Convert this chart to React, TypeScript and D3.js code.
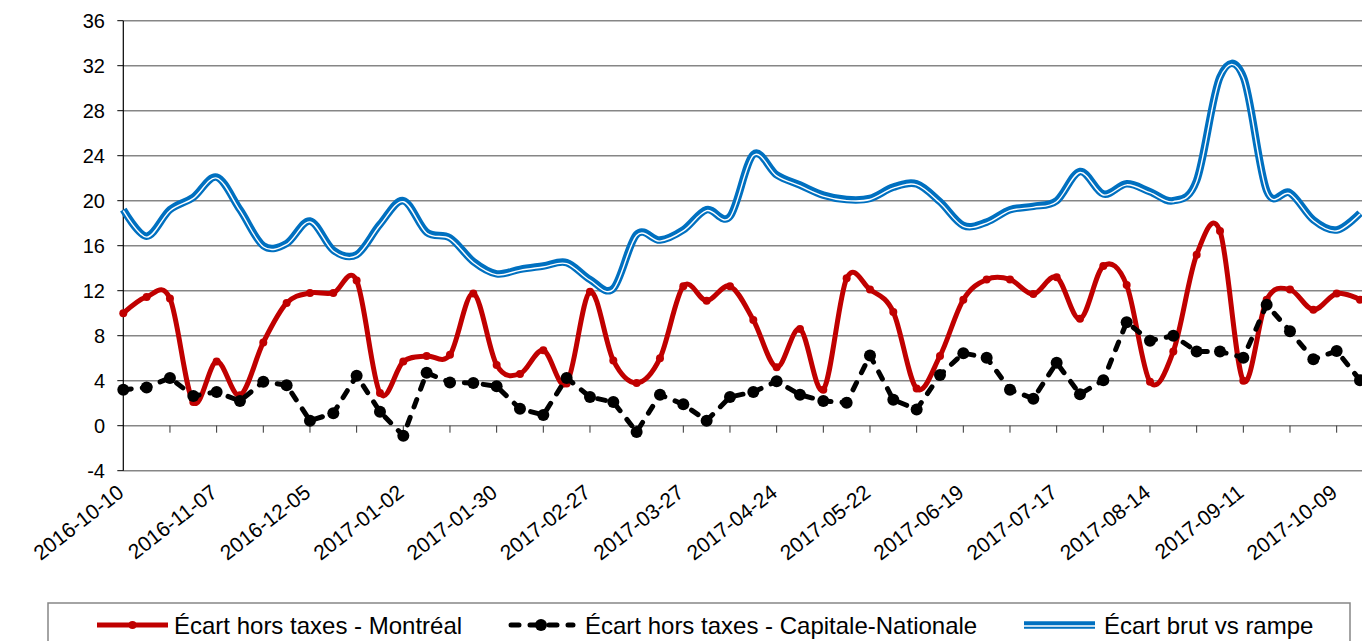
import * as d3 from 'd3'

const tickLabels = [
  '2016-10-10', '2016-11-07', '2016-12-05', '2017-01-02', '2017-01-30', '2017-02-27', '2017-03-27',
  '2017-04-24', '2017-05-22', '2017-06-19', '2017-07-17', '2017-08-14', '2017-09-11', '2017-10-09',
]

// weekly values, one per category
const montreal = [
  10.0, 11.45, 11.3, 2.1, 5.7, 2.7, 7.4, 10.9, 11.8, 11.8, 12.9, 2.9, 5.7, 6.2, 6.3, 11.75, 5.4, 4.6,
  6.7, 3.75, 11.9, 5.8, 3.8, 6.0, 12.4, 11.1, 12.4, 9.4, 5.2, 8.6, 3.2, 13.1, 12.1, 10.1, 3.3, 6.2,
  11.2, 13.0, 13.0, 11.7, 13.2, 9.5, 14.2, 12.5, 3.9, 6.6, 15.2, 17.3, 4.0, 11.2, 12.1, 10.3, 11.75, 11.2,
]
const capitale = [
  3.2, 3.4, 4.25, 2.65, 3.0, 2.2, 3.9, 3.6, 0.45, 1.1, 4.45, 1.25, -0.9, 4.7, 3.85, 3.8, 3.5, 1.5,
  0.95, 4.25, 2.55, 2.1, -0.55, 2.75, 1.9, 0.45, 2.55, 3.0, 3.95, 2.75, 2.2, 2.05, 6.25, 2.3, 1.45, 4.5,
  6.45, 6.05, 3.2, 2.4, 5.6, 2.8, 4.05, 9.2, 7.55, 8.0, 6.6, 6.6, 6.05, 10.75, 8.4, 5.9, 6.65, 4.05,
]
const brut = [
  19.2, 16.85, 19.2, 20.3, 22.1, 19.2, 16.0, 16.2, 18.2, 15.6, 15.2, 17.9, 20.0, 17.2, 16.7, 14.6, 13.5, 13.9,
  14.2, 14.5, 13.0, 12.2, 17.0, 16.5, 17.4, 19.2, 18.6, 24.1, 22.3, 21.4, 20.5, 20.1, 20.2, 21.2, 21.5, 19.9,
  17.8, 18.1, 19.2, 19.5, 20.0, 22.6, 20.6, 21.5, 20.8, 20.0, 21.8, 31.0, 31.0, 20.9, 20.7, 18.3, 17.4, 18.9,
]
const yTicks = [-4, 0, 4, 8, 12, 16, 20, 24, 28, 32, 36]
const legendLabels = ['Écart hors taxes - Montréal', 'Écart hors taxes - Capitale-Nationale', 'Écart brut vs rampe']

const W = 1362
const H = 641
const FONT = '"Liberation Sans", Arial, sans-serif'
const RED = '#C00000'
const BLUE = '#0070C0'
const GRID = '#868686'
const DASH = '8 11'

export default function App() {
  const x = d3.scaleLinear().domain([0, montreal.length - 1]).range([123.3, 1360])
  const y = d3.scaleLinear().domain([-4, 36]).range([470.7, 20.7])
  const left = x(0)

  const smooth = d3
    .line<number>()
    .x((_, i) => x(i))
    .y((d) => y(d))
    .curve(d3.curveCardinal.tension(0))
  const straight = d3
    .line<number>()
    .x((_, i) => x(i))
    .y((d) => y(d))

  const minorTicks = d3.range(2, montreal.length, 2)
  const brutPath = smooth(brut) ?? ''

  return (
    <>
      <style>{'body{margin:0}'}</style>
      <svg width={W} height={H} style={{ display: 'block', background: '#fff' }} fontFamily={FONT}>
        {/* grid + y labels */}
        {yTicks.map((t) => (
          <g key={t}>
            <line x1={left} x2={W} y1={y(t)} y2={y(t)} stroke={GRID} strokeWidth={1.6} />
            <line x1={left - 6} x2={left} y1={y(t)} y2={y(t)} stroke="#000" strokeWidth={1} />
            <text x={105} y={y(t)} dy="0.36em" textAnchor="end" fontSize={20} fill="#000">
              {t}
            </text>
          </g>
        ))}
        <line x1={left} x2={left} y1={y(36)} y2={y(-4)} stroke="#000" strokeWidth={1.2} />
        {minorTicks.map((i) => (
          <line key={i} x1={x(i)} x2={x(i)} y1={y(0)} y2={y(0) + 7} stroke="#333" strokeWidth={1} />
        ))}

        {/* x labels */}
        {tickLabels.map((lab, k) => (
          <text
            key={lab}
            transform={`translate(${x(k * 4) + 2},${495}) rotate(-38)`}
            textAnchor="end"
            fontSize={21}
            fill="#000"
          >
            {lab}
          </text>
        ))}

        {/* Montréal */}
        <path d={smooth(montreal) ?? ''} fill="none" stroke={RED} strokeWidth={5} strokeLinejoin="round" />
        {montreal.map((v, i) => (
          <circle key={i} cx={x(i)} cy={y(v)} r={4} fill={RED} />
        ))}

        {/* Capitale-Nationale */}
        <path
          d={straight(capitale) ?? ''}
          fill="none"
          stroke="#000"
          strokeWidth={5}
          strokeDasharray={DASH}
          strokeLinecap="round"
        />
        {capitale.map((v, i) => (
          <circle key={i} cx={x(i)} cy={y(v)} r={6} fill="#000" />
        ))}

        {/* brut vs rampe, double line */}
        <path d={brutPath} fill="none" stroke={BLUE} strokeWidth={7.5} strokeLinejoin="round" />
        <path
          d={brutPath}
          transform="translate(0,1)"
          fill="none"
          stroke="#fff"
          strokeWidth={1.4}
          strokeLinejoin="round"
        />

        {/* legend */}
        <rect x={48} y={603} width={1302} height={60} fill="#fff" stroke={GRID} strokeWidth={1.5} />
        <line x1={97} x2={168} y1={625} y2={625} stroke={RED} strokeWidth={5} />
        <circle cx={132.5} cy={625} r={4} fill={RED} />
        <text x={174} y={634} fontSize={24}>{legendLabels[0]}</text>

        <line x1={511} x2={573} y1={625} y2={625} stroke="#000" strokeWidth={5} strokeDasharray={DASH} strokeLinecap="round" />
        <circle cx={541} cy={625} r={6} fill="#000" />
        <text x={585} y={634} fontSize={24}>{legendLabels[1]}</text>

        <line x1={1024} x2={1095} y1={625} y2={625} stroke={BLUE} strokeWidth={7.5} />
        <line x1={1024} x2={1095} y1={626} y2={626} stroke="#fff" strokeWidth={1.4} />
        <text x={1104} y={634} fontSize={24}>{legendLabels[2]}</text>
      </svg>
    </>
  )
}
